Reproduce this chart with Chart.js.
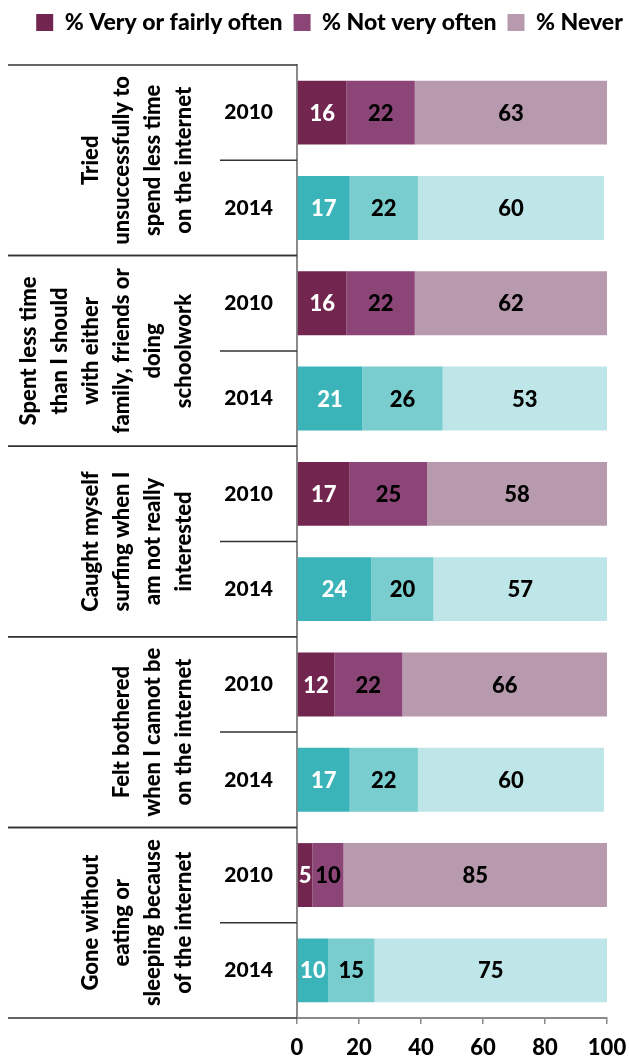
<!DOCTYPE html>
<html>
<head>
<meta charset="utf-8">
<script src="https://cdn.jsdelivr.net/npm/chart.js@4"></script>
<style>
  body { margin: 0; background: #fff; }
</style>
</head>
<body>
<canvas id="chart" width="629" height="1061"></canvas>
<script>
// Data
const years = ['2010', '2014', '2010', '2014', '2010', '2014', '2010', '2014', '2010', '2014'];
const groupLabels = [
  ['Tried', 'unsuccessfully to', 'spend less time', 'on the internet'],
  ['Spent less time', 'than I should', 'with either', 'family, friends or', 'doing', 'schoolwork'],
  ['Caught myself', 'surfing when I', 'am not really', 'interested'],
  ['Felt bothered', 'when I cannot be', 'on the internet'],
  ['Gone without', 'eating or', 'sleeping because', 'of the internet']
];
const veryOften = [16, 17, 16, 21, 17, 24, 12, 17, 5, 10];
const notVeryOften = [22, 22, 22, 26, 25, 20, 22, 22, 10, 15];
const never = [63, 60, 62, 53, 58, 57, 66, 60, 85, 75];
const xTicks = [0, 20, 40, 60, 80, 100];

const purple = ['#72264f', '#8c4577', '#b79aad'];
const teal = ['#3ab4b9', '#79cdcf', '#bee5e7'];
const colorsFor = k => years.map(y => (y === '2010' ? purple[k] : teal[k]));

const W = 900; // font weight
Chart.defaults.font.family = 'Lato';
Chart.defaults.font.weight = W;
Chart.defaults.font.size = 22;
Chart.defaults.color = '#000';

// extra space under the legend, and nudge it right
const legendGap = {
  id: 'legendGap',
  beforeInit(chart) {
    const fit = chart.legend.fit;
    chart.legend.fit = function () {
      fit.call(this);
      this.height += 21;
    };
  },
  afterLayout(chart) {
    chart.legend.left += 15;
    chart.legend.right += 15;
  }
};

// numbers inside the bar segments
const barValues = {
  id: 'barValues',
  afterDatasetsDraw(chart) {
    const ctx = chart.ctx;
    ctx.save();
    ctx.font = W + ' 22px Lato';
    ctx.textAlign = 'center';
    ctx.textBaseline = 'middle';
    chart.data.datasets.forEach((ds, i) => {
      const meta = chart.getDatasetMeta(i);
      meta.data.forEach((bar, j) => {
        const right = Math.min(bar.x, chart.chartArea.right);
        ctx.fillStyle = i === 0 ? '#fff' : '#000';
        ctx.fillText(ds.data[j], (bar.base + right) / 2, bar.y + 1);
      });
    });
    ctx.restore();
  }
};

// rotated group labels and separator lines on the left
const groupAxis = {
  id: 'groupAxis',
  afterDraw(chart) {
    const ctx = chart.ctx;
    const y = chart.scales.y;
    const left = chart.chartArea.left;
    const band = y.getPixelForValue(1) - y.getPixelForValue(0);
    ctx.save();
    ctx.strokeStyle = '#333';
    ctx.lineWidth = 1.5;
    groupLabels.forEach((lines, g) => {
      const y0 = y.getPixelForValue(g * 2);
      const y1 = y.getPixelForValue(g * 2 + 1);
      // group boundary lines
      ctx.beginPath();
      ctx.moveTo(8, y0 - band / 2);
      ctx.lineTo(left, y0 - band / 2);
      ctx.moveTo(8, y1 + band / 2);
      ctx.lineTo(left, y1 + band / 2);
      // line between the two years
      ctx.moveTo(220, (y0 + y1) / 2);
      ctx.lineTo(left, (y0 + y1) / 2);
      ctx.stroke();

      const cy = (y0 + y1) / 2;
      ctx.fillStyle = '#000';
      ctx.font = W + ' 22px Lato';
      ctx.textAlign = 'center';
      ctx.textBaseline = 'middle';
      lines.forEach((txt, k) => {
        const cx = 184 - (lines.length - 1 - k) * 31;
        ctx.save();
        ctx.translate(cx, cy);
        ctx.rotate(-Math.PI / 2);
        ctx.fillText(txt, 0, 0);
        ctx.restore();
      });
    });
    ctx.restore();
  }
};

new Chart(document.getElementById('chart'), {
  type: 'bar',
  data: {
    labels: years,
    datasets: [
      { label: '% Very or fairly often', data: veryOften, backgroundColor: colorsFor(0) },
      { label: '% Not very often', data: notVeryOften, backgroundColor: colorsFor(1) },
      { label: '% Never', data: never, backgroundColor: colorsFor(2) }
    ]
  },
  options: {
    indexAxis: 'y',
    responsive: false,
    animation: false,
    barPercentage: 0.67,
    categoryPercentage: 1,
    layout: { padding: 0 },
    plugins: {
      tooltip: { enabled: false },
      legend: {
        position: 'top',
        labels: {
          boxWidth: 17,
          boxHeight: 17,
          padding: 11,
          font: { size: 23, weight: W },
          generateLabels(chart) {
            const items = Chart.defaults.plugins.legend.labels.generateLabels(chart);
            items.forEach((it, i) => {
              it.fillStyle = purple[i];
              it.strokeStyle = purple[i];
              it.lineWidth = 0;
            });
            return items;
          }
        }
      }
    },
    scales: {
      x: {
        stacked: true,
        min: 0,
        max: 100,
        afterBuildTicks: s => { s.ticks = xTicks.map(v => ({ value: v })); },
        afterFit: s => { s.height = 43; s.paddingLeft = 0; s.paddingRight = 22; },
        grid: { drawOnChartArea: false, tickLength: 6, color: '#8a8a8a', lineWidth: 1.5 },
        border: { color: '#8a8a8a', width: 2 },
        ticks: { padding: 11, font: { size: 22, weight: W } }
      },
      y: {
        stacked: true,
        afterFit: s => { s.width = 297; },
        grid: { display: false, drawTicks: false },
        border: { color: '#8a8a8a', width: 2 },
        ticks: { padding: 24, font: { size: 21, weight: W } }
      }
    }
  },
  plugins: [legendGap, barValues, groupAxis]
});
</script>
</body>
</html>
